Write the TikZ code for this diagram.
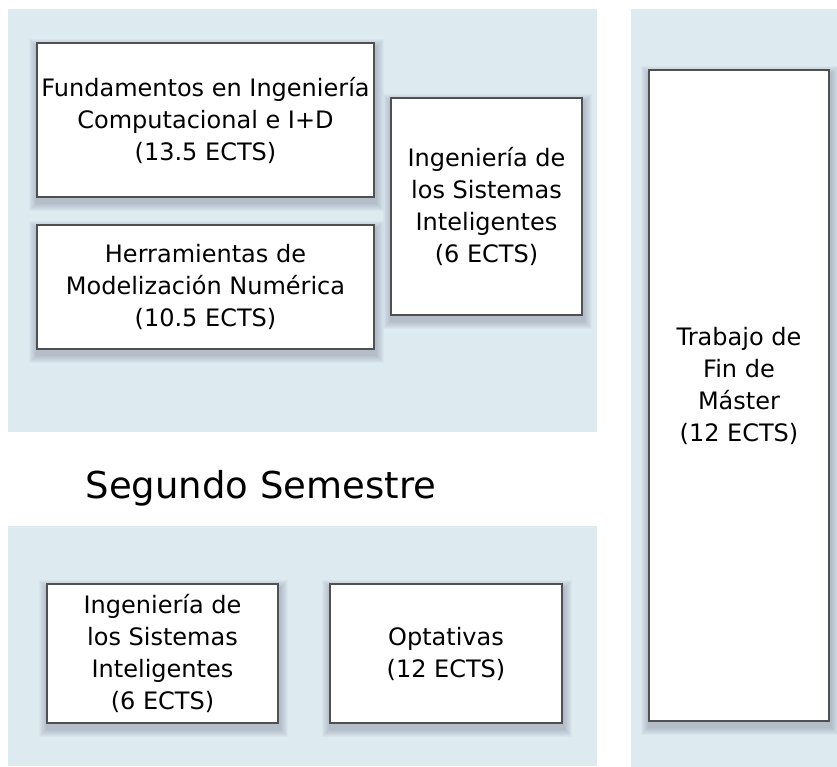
\documentclass[tikz,border=0pt]{standalone}
\usepackage{fontspec}
\setmainfont{DejaVu Sans}
\definecolor{panelblue}{RGB}{221,234,240}
\definecolor{boxline}{RGB}{78,80,82}
\pgfdeclarelayer{panels}
\pgfdeclarelayer{shadowlayer}
\pgfsetlayers{panels,shadowlayer,main}
\tikzset{
  panel/.style={fill=panelblue, draw=none, inner sep=0pt, anchor=north west},
  card/.style={draw=boxline, line width=1.2pt, fill=white, align=center,
    inner sep=0pt, font=\fontsize{24}{32}\selectfont},
  heading/.style={font=\fontsize{37}{44}\selectfont, anchor=base, inner sep=0pt}
}
\begin{document}
\begin{tikzpicture}[x=1pt,y=-1pt]
\useasboundingbox (0,0) rectangle (837,767);
\begin{pgfonlayer}{panels}
\node[panel, minimum width=589pt, minimum height=423pt] (top) at (8,9) {};
\node[panel, minimum width=206pt, minimum height=758pt] (right) at (631,9) {};
\node[panel, minimum width=589pt, minimum height=240pt] (bottom) at (8,526) {};
\end{pgfonlayer}

\node[card, minimum width=337pt, minimum height=154pt] (b1) at (205.5,120)
  {Fundamentos en Ingeniería\\Computacional e I+D\\(13.5 ECTS)};
\node[card, minimum width=337pt, minimum height=124pt] (b2) at (205.5,287)
  {Herramientas de\\Modelización Numérica\\(10.5 ECTS)};
\node[card, minimum width=191pt, minimum height=217pt] (b3) at (486.5,206.5)
  {Ingeniería de\\los Sistemas\\Inteligentes\\(6 ECTS)};
\node[card, minimum width=180pt, minimum height=651pt] (b4) at (739,395.5)
  {Trabajo de\\Fin de\\Máster\\(12 ECTS)\\[-10pt]};
\node[card, minimum width=231pt, minimum height=139pt] (b5) at (162.5,653.5)
  {Ingeniería de\\los Sistemas\\Inteligentes\\(6 ECTS)};
\node[card, minimum width=232pt, minimum height=139pt] (b6) at (446,653.5)
  {Optativas\\(12 ECTS)};

\node[heading] (sem2) at (261,498) {Segundo Semestre};

\begin{pgfonlayer}{shadowlayer}
\foreach \n in {b1,b2,b3,b4,b5,b6}{
  \foreach \k in {1,...,8}{
    \fill[black!85!blue, opacity=0.025]
      ([xshift={1pt-\k pt}, yshift={-5pt-\k pt}]\n.south west)
      rectangle ([xshift={1pt+\k pt}, yshift={-5pt+\k pt}]\n.north east);
  }
}
\end{pgfonlayer}
\end{tikzpicture}
\end{document}
